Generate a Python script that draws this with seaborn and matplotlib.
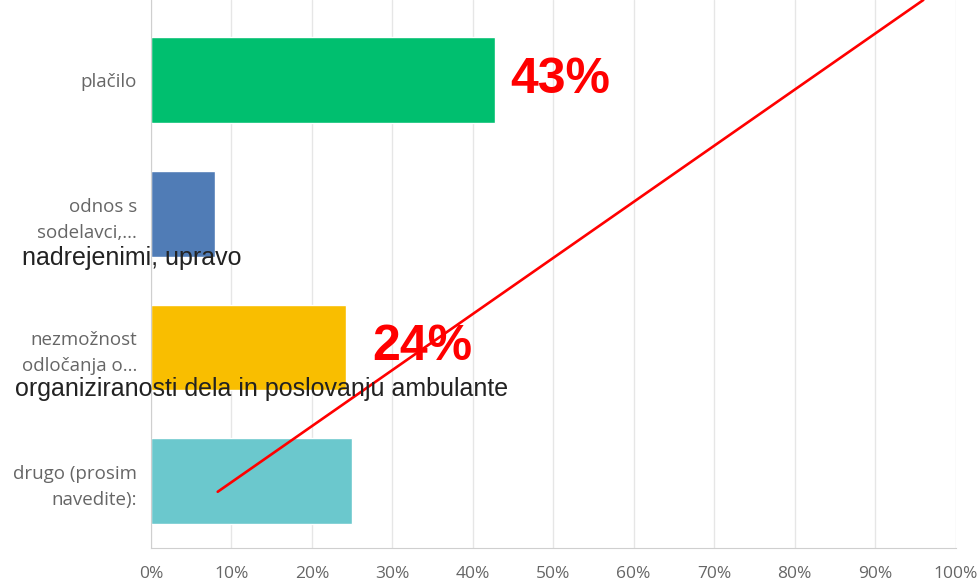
import pandas as pd
import matplotlib.pyplot as plt
import seaborn as sns

categories = ["plačilo", "odnos s\nsodelavci,...", "nezmožnost\nodločanja o...", "drugo (prosim\nnavedite):"]
shares = [42.8, 8.0, 24.2, 25.0]
bar_colors = ["#00BF6F", "#507CB6", "#F9BE00", "#6BC8CD"]
x_ticks = [0, 10, 20, 30, 40, 50, 60, 70, 80, 90, 100]
x_tick_labels = [f"{t}%" for t in x_ticks]

# overlay notes pasted on top of the original screenshot
overflow_notes = [("nadrejenimi, upravo", -16.0, 1.33), ("organiziranosti dela in poslovanju ambulante", -16.9, 2.31)]
big_labels = [("43%", 44.6, 0.0), ("24%", 27.5, 2.0)]
red_line_x = [8.3, 96.0]
red_line_y = [3.08, -0.6]

df = pd.DataFrame({"answer": categories, "share": shares})

sns.set_style("white")
fig = plt.figure(figsize=(9.8, 5.86), dpi=100)
ax = fig.add_axes([0.154, 0.065, 0.821, 0.935])

sns.barplot(data=df, x="share", y="answer", hue="answer", palette=bar_colors,
            width=0.64, legend=False, ax=ax, saturation=1)

ax.set_xlim(0, 100)
ax.set_ylim(3.5, -0.6)
ax.set_xticks(x_ticks)
ax.set_xticklabels(x_tick_labels)
ax.set_xlabel("")
ax.set_ylabel("")
ax.set_axisbelow(True)
ax.grid(axis="x", color="#e6e6e6", linewidth=1)

for side in ["top", "right"]:
    ax.spines[side].set_visible(False)
ax.spines["left"].set_color("#cfcfcf")
ax.spines["bottom"].set_color("#cfcfcf")

ax.tick_params(axis="x", length=0, pad=13, labelsize=12.5, labelcolor="#666666")
ax.tick_params(axis="y", length=0, pad=10, labelsize=13.5, labelcolor="#666666")
for lab in ax.get_xticklabels() + ax.get_yticklabels():
    lab.set_family("Open Sans")
for lab in ax.get_yticklabels():
    lab.set_linespacing(1.55)

for txt, x, y in overflow_notes:
    ax.text(x, y, txt, fontsize=18, color="#222222", family="Liberation Sans",
            ha="left", va="center", clip_on=False)

for txt, x, y in big_labels:
    ax.text(x, y, txt, fontsize=36, color="#ff0000", family="Liberation Sans",
            fontweight="bold", ha="left", va="center")

ax.plot(red_line_x, red_line_y, color="#ff0000", linewidth=1.9, clip_on=False)

fig.savefig("out.png", dpi=100)
